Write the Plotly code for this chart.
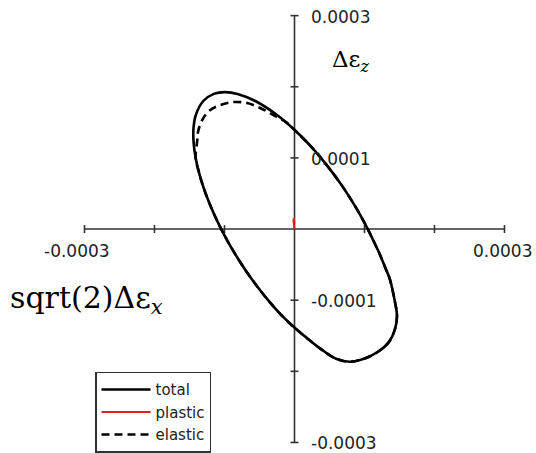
import plotly.graph_objects as go

E4 = 1e-4  # values below are stored in units of 1e-4

# Total strain loop (sqrt(2)*d_eps_x, d_eps_z)
total_x = [-0.996, -0.814, -0.560, -0.245, -0.006, 0.198, 0.377, 0.538, 0.685, 0.817,
           0.938, 1.047, 1.145, 1.221, 1.300, 1.364, 1.436, 1.464, 1.436, 1.350,
           1.193, 0.993, 0.793, 0.593, 0.393, 0.193, 0.007, -0.198, -0.377, -0.538,
           -0.685, -0.817, -0.938, -1.047, -1.145, -1.231, -1.305, -1.366, -1.412, -1.440,
           -1.444, -1.411, -1.303, -1.153, -0.996]
total_y = [1.925, 1.9, 1.8, 1.6, 1.4, 1.2, 1.0, 0.8, 0.6, 0.4,
           0.2, 0.0, -0.2, -0.36, -0.55, -0.71, -1.03, -1.21, -1.405, -1.586,
           -1.725, -1.823, -1.865, -1.823, -1.698, -1.545, -1.392, -1.2, -1.0, -0.8,
           -0.6, -0.4, -0.2, 0.0, 0.2, 0.4, 0.6, 0.8, 1.0, 1.2,
           1.4, 1.6, 1.8, 1.9, 1.925]

# Elastic part of the loop
elastic_x = [-0.006, 0.198, 0.377, 0.538, 0.685, 0.817, 0.938, 1.047, 1.145, 1.221,
             1.300, 1.364, 1.436, 1.464, 1.436, 1.350, 1.193, 0.993, 0.793, 0.593,
             0.393, 0.193, 0.007, -0.198, -0.377, -0.538, -0.685, -0.817, -0.938, -1.047,
             -1.145, -1.231, -1.305, -1.366, -1.412, -1.390, -1.375, -1.303, -1.204, -1.061,
             -0.876, -0.677, -0.491, -0.306, -0.107, -0.006]
elastic_y = [1.4, 1.2, 1.0, 0.8, 0.6, 0.4, 0.2, 0.0, -0.2, -0.36,
             -0.55, -0.71, -1.03, -1.21, -1.405, -1.586, -1.725, -1.823, -1.865, -1.823,
             -1.698, -1.545, -1.392, -1.2, -1.0, -0.8, -0.6, -0.4, -0.2, 0.0,
             0.2, 0.4, 0.6, 0.8, 1.0, 1.24, 1.38, 1.56, 1.674, 1.743,
             1.785, 1.771, 1.702, 1.604, 1.492, 1.4]

# Plastic part (tiny)
plastic_x = [0.0, -0.010, -0.015, -0.010, 0.0]
plastic_y = [0.0, 0.05, 0.12, 0.15, 0.08]

# Axis ticks and labels
x_ticks = [-3, -2, -1, 1, 2, 3]
y_ticks = [-3, -2, -1, 1, 2, 3]
x_tick_labels = {-3: "-0.0003", 3: "0.0003"}
y_tick_labels = {3: "0.0003", 1: "0.0001", -1: "-0.0001", -3: "-0.0003"}


def scaled(vals):
    return [v * E4 for v in vals]


fig = go.Figure()
fig.add_trace(go.Scatter(x=scaled(total_x), y=scaled(total_y), mode="lines",
                         name="total", line=dict(color="black", width=2.6, shape="spline", smoothing=1.0)))
fig.add_trace(go.Scatter(x=scaled(plastic_x), y=scaled(plastic_y), mode="lines",
                         name="plastic", line=dict(color="#e02020", width=2)))
fig.add_trace(go.Scatter(x=scaled(elastic_x), y=scaled(elastic_y), mode="lines",
                         name="elastic", line=dict(color="black", width=2.6, dash="8px,5px",
                                                   shape="spline", smoothing=1.0)))

axis_color = "#333333"
shapes = [
    dict(type="line", xref="x", yref="y", x0=-3 * E4, x1=3 * E4, y0=0, y1=0,
         line=dict(color=axis_color, width=1.6), layer="below"),
    dict(type="line", xref="x", yref="y", x0=0, x1=0, y0=-3 * E4, y1=3 * E4,
         line=dict(color=axis_color, width=1.6), layer="below"),
]
for t in x_ticks:
    shapes.append(dict(type="line", xref="x", yref="y", x0=t * E4, x1=t * E4,
                       ysizemode="pixel", yanchor=0, y0=-4, y1=4,
                       line=dict(color=axis_color, width=1.6), layer="below"))
for t in y_ticks:
    shapes.append(dict(type="line", xref="x", yref="y", y0=t * E4, y1=t * E4,
                       xsizemode="pixel", xanchor=0, x0=-4, x1=4,
                       line=dict(color=axis_color, width=1.6), layer="below"))

tick_font = dict(family="DejaVu Sans", size=17, color="#222222")
annotations = []
for t, txt in x_tick_labels.items():
    annotations.append(dict(x=t * E4, y=0, xref="x", yref="y", text=txt, showarrow=False,
                            xanchor="center", yanchor="middle", yshift=-22,
                            xshift=-8 if t < 0 else -2, font=tick_font))
for t, txt in y_tick_labels.items():
    annotations.append(dict(x=0, y=t * E4, xref="x", yref="y", text=txt, showarrow=False,
                            xanchor="left", yanchor="middle", xshift=14, yshift=-1,
                            font=tick_font))

W, H = 536, 453

label_font = dict(family="DejaVu Serif", color="black")
annotations.append(dict(x=330 / W, y=1 - 62 / H, xref="paper", yref="paper",
                        text="Δε<sub><i>z</i></sub>",
                        showarrow=False, xanchor="left", yanchor="middle",
                        font=dict(size=23, **label_font)))
annotations.append(dict(x=8 / W, y=1 - 302 / H, xref="paper", yref="paper",
                        text="sqrt(2)Δε<sub><i>x</i></sub>",
                        showarrow=False, xanchor="left", yanchor="middle",
                        font=dict(size=30, **label_font)))

fig.update_layout(
    width=W, height=H,
    margin=dict(l=0, r=0, t=0, b=0),
    paper_bgcolor="white", plot_bgcolor="white",
    xaxis=dict(range=[-3.15 * E4, 3.15 * E4], visible=False, domain=[74 / W, 515 / W]),
    yaxis=dict(range=[-3.05 * E4, 3.15 * E4], visible=False, domain=[3 / H, 448 / H]),
    shapes=shapes,
    annotations=annotations,
    showlegend=True,
    legend=dict(x=95 / W, y=1 - 375 / H, xanchor="left", yanchor="top",
                bordercolor="#333333", borderwidth=1.5, bgcolor="white",
                font=dict(family="DejaVu Sans", size=15, color="#222222"),
                tracegroupgap=0, itemwidth=49),
)

fig.write_html("out.html")
